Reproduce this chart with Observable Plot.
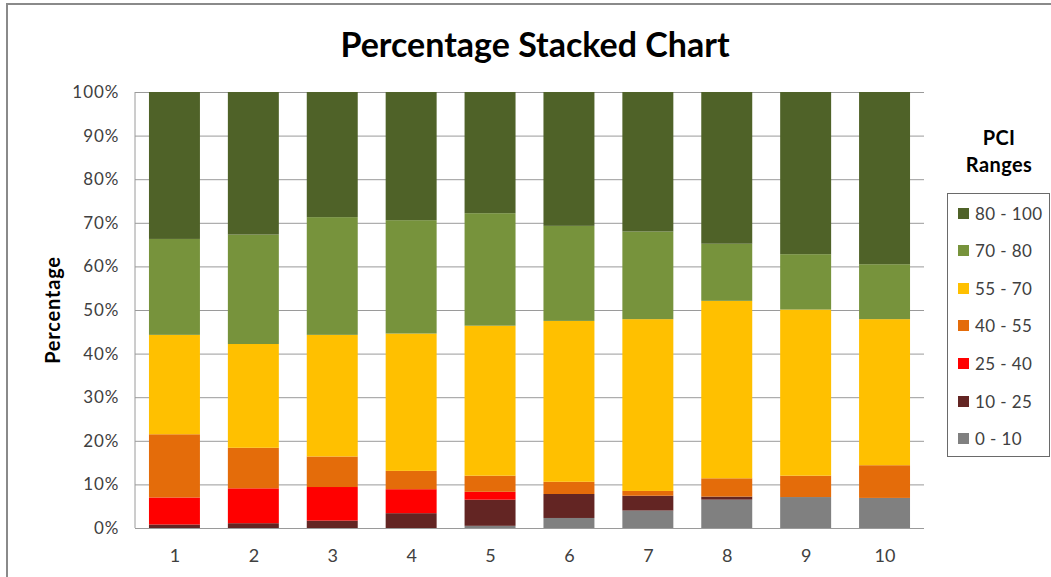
<!DOCTYPE html>
<html>
<head>
<meta charset="utf-8">
<script src="https://cdn.jsdelivr.net/npm/d3@7"></script>
<script src="https://cdn.jsdelivr.net/npm/@observablehq/plot@0.6"></script>
<style>
  body { margin: 0; background: #fff; }
  #chart { position: relative; width: 1051px; height: 577px; overflow: hidden; font-family: Lato, "Open Sans", sans-serif; }
  #chart svg { position: absolute; left: 0; top: 0; }
  #border { position: absolute; left: 6px; top: 3px; width: 1200px; height: 800px; border: 2px solid #8a8a8a; box-sizing: border-box; }
  #title { position: absolute; left: 0; width: 1070px; top: 23px; text-align: center; font-weight: 700; font-size: 34px; color: #000; line-height: 42px; }
  #ylabel { position: absolute; left: 52px; top: 310px; transform: translate(-50%, -50%) rotate(-90deg); font-weight: 700; font-size: 20px; letter-spacing: 0.8px; color: #000; white-space: nowrap; }
  #legend-title { position: absolute; left: 949px; width: 100px; top: 124px; text-align: center; font-weight: 700; font-size: 20px; letter-spacing: 0.4px; line-height: 27px; color: #000; }
  #legend { position: absolute; left: 947px; top: 193px; width: 103px; height: 264px; border: 1px solid #6a6a6a; box-sizing: border-box; }
  .item { position: absolute; left: 10px; height: 20px; display: flex; align-items: center; font-size: 17px; letter-spacing: 0.4px; color: #404040; }
  .sw { width: 11px; height: 11px; margin-right: 6px; }
</style>
</head>
<body>
<div id="chart">
  <div id="border"></div>
  <div id="title">Percentage Stacked Chart</div>
  <div id="ylabel">Percentage</div>
  <div id="legend-title">PCI<br>Ranges</div>
  <div id="legend"></div>
</div>
<script>
// Categories along the x axis
const bars = ["1", "2", "3", "4", "5", "6", "7", "8", "9", "10"];

// PCI ranges, bottom of the stack first, with their fills
const ranges = ["0 - 10", "10 - 25", "25 - 40", "40 - 55", "55 - 70", "70 - 80", "80 - 100"];
const colors = ["#808080", "#632523", "#FF0000", "#E46C0A", "#FFC000", "#77933C", "#4F6228"];

// Share of each bar (percent) falling in each PCI range
const pci0to10   = [0.0, 0.0, 0.0, 0.0, 0.5, 2.3, 4.0, 6.5, 7.1, 6.9];
const pci10to25  = [0.8, 1.1, 1.7, 3.4, 6.0, 5.5, 3.4, 0.7, 0.0, 0.0];
const pci25to40  = [6.2, 8.0, 7.7, 5.5, 1.8, 0.0, 0.0, 0.0, 0.0, 0.0];
const pci40to55  = [14.5, 9.3, 7.0, 4.2, 3.7, 2.8, 1.1, 4.2, 4.9, 7.5];
const pci55to70  = [22.8, 23.8, 27.9, 31.5, 34.4, 36.9, 39.4, 40.7, 38.1, 33.5];
const pci70to80  = [22.0, 25.1, 27.0, 26.0, 25.8, 21.8, 20.1, 13.1, 12.7, 12.6];
const pci80to100 = [33.7, 32.7, 28.7, 29.4, 27.8, 30.7, 32.0, 34.8, 37.2, 39.5];

// Y axis ticks (percent)
const yTicks = [0, 10, 20, 30, 40, 50, 60, 70, 80, 90, 100];

const series = [pci0to10, pci10to25, pci25to40, pci40to55, pci55to70, pci70to80, pci80to100];
const rows = bars.flatMap((bar, i) =>
  series.map((values, j) => ({bar, range: ranges[j], value: values[i]}))
);

const plot = Plot.plot({
  width: 1051,
  height: 577,
  marginLeft: 135,
  marginRight: 127,
  marginTop: 92,
  marginBottom: 49,
  style: {fontFamily: "Lato, 'Open Sans', sans-serif", fontSize: "17px", color: "#404040", background: "transparent"},
  x: {domain: bars, paddingInner: 0.354, paddingOuter: 0.177, round: false, label: null},
  y: {domain: [0, 100], label: null},
  color: {domain: ranges, range: colors},
  marks: [
    Plot.gridY(yTicks, {stroke: "#9a9a9a", strokeOpacity: 1, strokeWidth: 1}),
    Plot.barY(rows, {x: "bar", y: "value", fill: "range"}),
    Plot.axisY(yTicks, {tickSize: 0, tickPadding: 16, tickFormat: d => d + "%", label: null}),
    Plot.axisX({tickSize: 0, tickPadding: 21, fontSize: 18, label: null})
  ]
});

// Vertical axis line along the left edge of the plotting area
const [x0] = plot.scale("x").range;
const [yBottom, yTop] = plot.scale("y").range;
d3.select(plot).append("line")
  .attr("x1", x0).attr("x2", x0)
  .attr("y1", yTop).attr("y2", yBottom)
  .attr("stroke", "#9a9a9a");

// Slightly wider spacing on the percentage tick labels
d3.select(plot).selectAll("[aria-label='y-axis tick label'] text").attr("letter-spacing", "1px");

document.getElementById("chart").appendChild(plot);

// Legend: highest range at the top
const legend = document.getElementById("legend");
ranges.slice().reverse().forEach((name, k) => {
  const color = colors[ranges.indexOf(name)];
  const item = document.createElement("div");
  item.className = "item";
  item.style.top = (9 + k * 37.6) + "px";
  item.innerHTML = `<span class="sw" style="background:${color}"></span><span>${name}</span>`;
  legend.appendChild(item);
});
</script>
</body>
</html>
